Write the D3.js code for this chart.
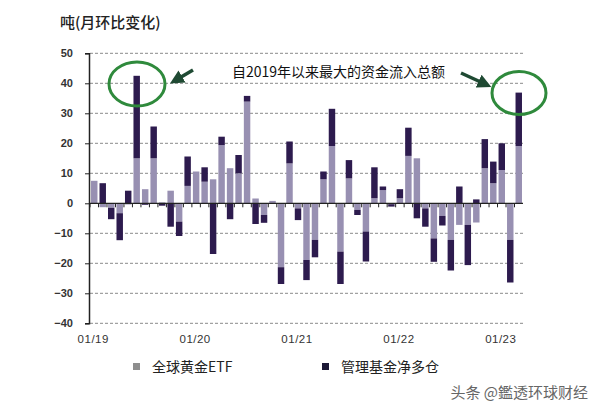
<!DOCTYPE html>
<html><head><meta charset="utf-8">
<script src="https://cdn.jsdelivr.net/npm/d3@7"></script>
<style>body{margin:0;background:#fff}svg{display:block}</style>
</head><body><svg id="c" width="600" height="417"></svg>
<script>
const months = ["01/19","02/19","03/19","04/19","05/19","06/19","07/19","08/19","09/19","10/19","11/19","12/19",
"01/20","02/20","03/20","04/20","05/20","06/20","07/20","08/20","09/20","10/20","11/20","12/20",
"01/21","02/21","03/21","04/21","05/21","06/21","07/21","08/21","09/21","10/21","11/21","12/21",
"01/22","02/22","03/22","04/22","05/22","06/22","07/22","08/22","09/22","10/22","11/22","12/22",
"01/23","02/23","03/23"];
const etf = [7.5,-1.3,-1.5,-3.3,-0.4,15,4.7,15,0.3,4.2,-6.1,5.8,
10.6,7.2,8,19.4,11.7,10,33.9,1.6,-3.9,0.8,-21.3,13.3,
-1.7,-18.9,-12.2,8,19.1,-16.1,8.3,-2.2,-9.4,1.7,4.4,-0.3,
1.7,15.8,15,-1.7,-11.7,-4.2,-12.2,-7.2,-7.2,-6.4,11.7,6.7,
11.1,-12.2,19.1];
const managed = [0,6.7,-3.8,-9,4.2,27.5,-0.5,10.6,-0.8,-7.8,-4.8,9.8,
0,4.8,-16.9,2.8,-5.3,6.1,1.9,-6.9,-2.6,0,-5.6,7.3,
-3.9,-6.7,-5.8,2.6,12.4,-10.8,6.1,-1.7,-10,10.3,1.2,-0.8,
3,9.4,-5,-6.1,-7.8,-3.2,-10.2,5.6,-13.4,1.3,9.7,7.2,
8.9,-14.2,17.8];
const seriesNames = ["全球黄金ETF","管理基金净多仓"];
const yTicks = [50,40,30,20,10,0,-10,-20,-30,-40];
const xTickLabels = ["01/19","01/20","01/21","01/22","01/23"];
const titleText = "吨(月环比变化)";
const noteText = "自2019年以来最大的资金流入总额";
const watermark = "头条 @鑑透环球财经";

const svg = d3.select("#c");
const barColors = ["#9890b2","#2d1b4e"];
const legendColors = ["#8e8e8e","#1c1836"];
const cjk = "'Noto Sans CJK SC','Noto Sans',sans-serif";

const x = d3.scaleBand().domain(months).range([90,523]).paddingInner(0.24).paddingOuter(0.12);
const y = d3.scaleLinear().domain([-40,50]).range([323.3,53.3]);

// grid
svg.append("g").selectAll("line").data(yTicks.filter(d=>d!==0)).join("line")
  .attr("x1",90).attr("x2",523).attr("y1",d=>y(d)).attr("y2",d=>y(d))
  .attr("stroke","#8a8a8a").attr("stroke-width",1).attr("stroke-dasharray","3,2");

// stacked bars
const table = months.map((m,i)=>({m, etf:etf[i], mm:managed[i]}));
const stack = d3.stack().keys(["etf","mm"]).offset(d3.stackOffsetDiverging)(table);
svg.append("g").selectAll("g").data(stack).join("g").attr("fill",(d,i)=>barColors[i])
  .selectAll("rect").data(d=>d).join("rect")
  .attr("x",d=>x(d.data.m)).attr("width",x.bandwidth())
  .attr("y",d=>y(Math.max(d[0],d[1]))).attr("height",d=>Math.abs(y(d[0])-y(d[1])));

// zero axis with ticks
svg.append("line").attr("x1",90).attr("x2",523).attr("y1",y(0)).attr("y2",y(0))
  .attr("stroke","#222").attr("stroke-width",1.3);
const step = x.step();
svg.append("g").selectAll("line").data(months).join("line")
  .attr("x1",d=>x(d)-step*x.paddingInner()/2).attr("x2",d=>x(d)-step*x.paddingInner()/2)
  .attr("y1",y(0)).attr("y2",y(0)+4).attr("stroke","#222").attr("stroke-width",1);

// y axis
const yAxis = d3.axisLeft(y).tickValues(yTicks).tickSize(4).tickPadding(12).tickFormat(d3.format("d"));
const ya = svg.append("g").attr("transform","translate(89,0)").call(yAxis);
ya.select(".domain").attr("stroke","#222").attr("stroke-width",1.5);
ya.selectAll(".tick line").attr("stroke","#222");
ya.selectAll("text").attr("font-family","'Liberation Sans',Arial,sans-serif").attr("font-size",11)
  .attr("font-weight","bold").attr("fill","#333");

// x labels
const xAxis = d3.axisBottom(x).tickValues(xTickLabels).tickSize(0).tickPadding(0);
const xa = svg.append("g").attr("transform","translate(-1,335)").call(xAxis);
xa.select(".domain").remove();
xa.selectAll("text").attr("font-family","'Liberation Sans',Arial,sans-serif").attr("font-size",11.5)
  .attr("letter-spacing","0.5px").attr("fill","#333");

// title
svg.append("text").attr("x",60).attr("y",28).text(titleText)
  .attr("font-family",cjk).attr("font-size",15).attr("font-weight",500).attr("fill","#222");

// annotation
svg.append("text").attr("x",232).attr("y",77).text(noteText)
  .attr("font-family",cjk).attr("font-size",14).attr("fill","#111");

// ellipses
const ells = [{cx:137,cy:84,rx:28,ry:22},{cx:519,cy:93,rx:27,ry:21.5}];
svg.append("g").selectAll("ellipse").data(ells).join("ellipse")
  .attr("cx",d=>d.cx).attr("cy",d=>d.cy).attr("rx",d=>d.rx).attr("ry",d=>d.ry)
  .attr("fill","none").attr("stroke","#2f8a3c").attr("stroke-width",3);

// arrows
svg.append("defs").append("marker").attr("id","ah").attr("viewBox","0 0 10 10")
  .attr("refX",5).attr("refY",5).attr("markerWidth",4).attr("markerHeight",4).attr("orient","auto")
  .append("path").attr("d","M0,0L10,5L0,10z").attr("fill","#1f4a33");
const arrows = [{x1:193,y1:70,x2:176,y2:80},{x1:461,y1:73,x2:485,y2:84}];
svg.append("g").selectAll("line").data(arrows).join("line")
  .attr("x1",d=>d.x1).attr("y1",d=>d.y1).attr("x2",d=>d.x2).attr("y2",d=>d.y2)
  .attr("stroke","#1f4a33").attr("stroke-width",3.5).attr("marker-end","url(#ah)");

// legend
const lg = svg.append("g");
const lx = [133,322];
seriesNames.forEach((n,i)=>{
  lg.append("rect").attr("x",lx[i]).attr("y",363).attr("width",7).attr("height",7).attr("fill",legendColors[i]);
  lg.append("text").attr("x",lx[i]+19).attr("y",372).text(n)
    .attr("font-family",cjk).attr("font-size",14).attr("fill","#222");
});

// watermark
svg.append("text").attr("x",588).attr("y",398).attr("text-anchor","end").text(watermark)
  .attr("font-family",cjk).attr("font-size",15).attr("fill","#666");
</script></body></html>
